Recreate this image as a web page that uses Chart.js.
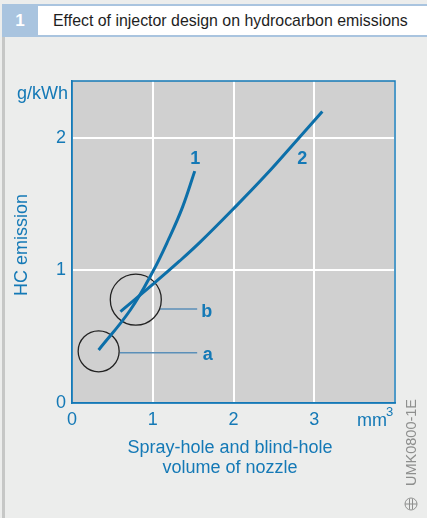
<!DOCTYPE html>
<html>
<head>
<meta charset="utf-8">
<script src="https://cdn.jsdelivr.net/npm/chart.js@4.4.1/dist/chart.umd.min.js"></script>
<style>
    html, body {
        margin: 0;
        padding: 0;
    }
    body {
        width: 427px;
        height: 518px;
        position: relative;
        overflow: hidden;
        background: #ecedec;
        font-family: "Liberation Sans", Arial, sans-serif;
    }
    .frame {
        position: absolute;
        left: 2px;
        top: 37px;
        width: 3px;
        bottom: 0;
        background: #c6c7c6;
    }
    .header {
        position: absolute;
        left: 2px;
        top: 4px;
        right: 0;
        height: 33px;
        background: #a9c4df;
    }
    .header .num {
        position: absolute;
        left: 0;
        top: 0;
        width: 36px;
        height: 33px;
        line-height: 33px;
        text-align: center;
        color: #ffffff;
        font-size: 17px;
        font-weight: bold;
    }
    .header .title {
        position: absolute;
        left: 36px;
        top: 2px;
        right: 0;
        height: 29px;
        line-height: 29px;
        background: #ffffff;
        color: #1e1e1e;
        font-size: 15.9px;
        padding-left: 15px;
        white-space: nowrap;
    }
    #chart {
        position: absolute;
        left: 0;
        top: 0;
    }
</style>
</head>
<body>
<div class="frame"></div>
<div class="header">
    <div class="num">1</div>
    <div class="title">Effect of injector design on hydrocarbon emissions</div>
</div>
<canvas id="chart" width="427" height="518"></canvas>

<script>
// ==================== ДАННЫЕ ====================

// Кривая 1
const curve1X = [0.33, 0.72, 1.00, 1.20, 1.37, 1.52];
const curve1Y = [0.40, 0.70, 0.99, 1.24, 1.48, 1.75];

// Кривая 2
const curve2X = [0.60, 1.00, 1.33, 1.58, 1.99, 2.40, 2.81, 3.10];
const curve2Y = [0.69, 0.895, 1.07, 1.21, 1.46, 1.72, 2.00, 2.20];

// Выноски a и b: центр окружности, радиус (px), линия к подписи
const markerNames = ['a', 'b'];
const markerX = [0.33, 0.79];
const markerY = [0.39, 0.78];
const markerR = [20.5, 25.5];
const leaderFromX = [0.59, 1.09];
const leaderToX = [1.55, 1.55];
const leaderY = [0.38, 0.71];
const markerLabelX = [1.68, 1.67];
const markerLabelY = [0.325, 0.65];

// Номера кривых
const curveNames = ['1', '2'];
const curveLabelX = [1.525, 2.85];
const curveLabelY = [1.80, 1.80];

const xTicks = [0, 1, 2, 3];
const yTicks = [0, 1, 2];

const BLUE = '#1479b6';
const LINE_BLUE = '#0c6fa9';
const FONT = '"Liberation Sans", Arial, sans-serif';

function toPoints(xs, ys) {
    return xs.map((x, i) => ({ x: x, y: ys[i] }));
}

// ==================== ПЛАГИН ОФОРМЛЕНИЯ ====================

const decorPlugin = {
    id: 'decor',
    beforeDraw(chart) {
        const { ctx, chartArea: a } = chart;
        ctx.save();
        ctx.fillStyle = '#d0d0d0';
        ctx.fillRect(a.left, a.top, a.right - a.left, a.bottom - a.top);
        ctx.restore();
    },
    beforeDatasetsDraw(chart) {
        const { ctx, chartArea: a } = chart;
        ctx.save();
        ctx.strokeStyle = BLUE;
        ctx.lineWidth = 1.5;
        ctx.strokeRect(a.left, a.top, a.right - a.left, a.bottom - a.top);
        ctx.restore();
    },
    afterDatasetsDraw(chart) {
        const { ctx, scales: { x, y }, chartArea: a } = chart;
        ctx.save();
        ctx.fillStyle = BLUE;
        ctx.font = 'bold 18px ' + FONT;
        ctx.textAlign = 'center';
        ctx.textBaseline = 'alphabetic';
        curveNames.forEach((t, i) => {
            ctx.fillText(t, x.getPixelForValue(curveLabelX[i]), y.getPixelForValue(curveLabelY[i]));
        });
        markerNames.forEach((t, i) => {
            ctx.fillText(t, x.getPixelForValue(markerLabelX[i]), y.getPixelForValue(markerLabelY[i]));
        });

        // единицы и подписи осей
        ctx.font = '18px ' + FONT;
        ctx.textAlign = 'right';
        ctx.fillText('g/kWh', a.left - 4, a.top + 18);
        ctx.textAlign = 'left';
        ctx.fillText('mm', 357, 426);
        ctx.font = '13px ' + FONT;
        ctx.fillText('3', 386, 416);

        ctx.font = '18px ' + FONT;
        ctx.textAlign = 'center';
        ctx.fillText('Spray-hole and blind-hole', 230, 453);
        ctx.fillText('volume of nozzle', 230, 473);

        ctx.save();
        ctx.translate(27, 245);
        ctx.rotate(-Math.PI / 2);
        ctx.fillText('HC emission', 0, 0);
        ctx.restore();

        // шифр рисунка
        ctx.save();
        ctx.translate(416, 486);
        ctx.rotate(-Math.PI / 2);
        ctx.fillStyle = '#8e8f8e';
        ctx.font = '14.5px ' + FONT;
        ctx.textAlign = 'left';
        ctx.fillText('UMK0800-1E', 0, 0);
        ctx.restore();
        ctx.strokeStyle = '#8e8f8e';
        ctx.lineWidth = 1;
        ctx.beginPath();
        ctx.arc(411, 504, 6, 0, Math.PI * 2);
        ctx.moveTo(405, 504);
        ctx.lineTo(417, 504);
        ctx.moveTo(409.5, 499);
        ctx.lineTo(409.5, 509);
        ctx.moveTo(412.5, 499);
        ctx.lineTo(412.5, 509);
        ctx.stroke();
        ctx.restore();
    }
};

// ==================== ГРАФИК ====================

const leaderSets = markerNames.map((name, i) => ({
    type: 'line',
    label: 'leader ' + name,
    data: [
        { x: leaderFromX[i], y: leaderY[i] },
        { x: leaderToX[i], y: leaderY[i] }
    ],
    borderColor: '#5b8fb8',
    borderWidth: 1.5,
    pointRadius: 0,
    order: 3
}));

new Chart(document.getElementById('chart'), {
    data: {
        datasets: [
            {
                type: 'line',
                label: '1',
                data: toPoints(curve1X, curve1Y),
                borderColor: LINE_BLUE,
                borderWidth: 3,
                pointRadius: 0,
                tension: 0.4,
                order: 1
            },
            {
                type: 'line',
                label: '2',
                data: toPoints(curve2X, curve2Y),
                borderColor: LINE_BLUE,
                borderWidth: 3,
                pointRadius: 0,
                tension: 0.4,
                order: 1
            },
            {
                type: 'bubble',
                label: 'circles',
                data: markerX.map((x, i) => ({ x: x, y: markerY[i], r: markerR[i] })),
                backgroundColor: 'rgba(0,0,0,0)',
                borderColor: '#222222',
                borderWidth: 1.3,
                hoverRadius: 0,
                order: 2
            },
            ...leaderSets
        ]
    },
    options: {
        responsive: false,
        animation: false,
        devicePixelRatio: 1,
        layout: {
            padding: { left: 0, top: 81, right: 32, bottom: 0 }
        },
        plugins: {
            legend: { display: false },
            tooltip: { enabled: false }
        },
        scales: {
            x: {
                type: 'linear',
                min: 0,
                max: 4,
                afterFit: (s) => { s.height = 115; },
                afterBuildTicks: (s) => { s.ticks = [0, 1, 2, 3, 4].map(v => ({ value: v })); },
                ticks: {
                    color: BLUE,
                    font: { family: FONT, size: 18 },
                    padding: 6,
                    maxRotation: 0,
                    callback: (v) => xTicks.includes(v) ? String(v) : ''
                },
                grid: { color: '#ffffff', lineWidth: 2, drawTicks: false },
                border: { color: BLUE, width: 1.5 }
            },
            y: {
                type: 'linear',
                min: 0,
                max: 2.43,
                afterFit: (s) => { s.width = 72; },
                afterBuildTicks: (s) => { s.ticks = yTicks.map(v => ({ value: v })); },
                ticks: {
                    color: BLUE,
                    font: { family: FONT, size: 18 },
                    padding: 6,
                    callback: (v) => String(v)
                },
                grid: { color: '#ffffff', lineWidth: 2, drawTicks: false },
                border: { color: BLUE, width: 1.5 }
            }
        }
    },
    plugins: [decorPlugin]
});
</script>
</body>
</html>
